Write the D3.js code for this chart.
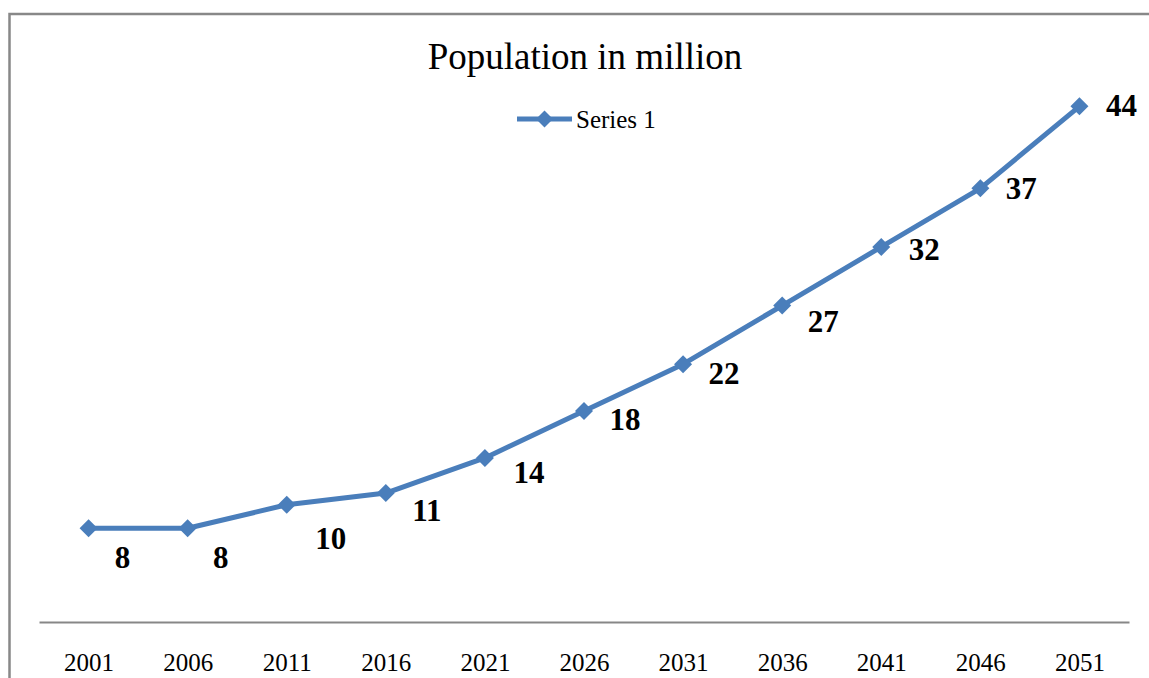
<!DOCTYPE html>
<html>
<head>
<meta charset="utf-8">
<script src="https://cdn.jsdelivr.net/npm/d3@7"></script>
<style>
  html, body { margin: 0; padding: 0; background: #fff; }
  svg { display: block; }
</style>
</head>
<body>
<svg id="chart" width="1149" height="678"></svg>
<script>
// Projected population (million), every five years
const years = ["2001", "2006", "2011", "2016", "2021", "2026", "2031", "2036", "2041", "2046", "2051"];
const population = [8, 8, 10, 11, 14, 18, 22, 27, 32, 37, 44];
const seriesName = "Series 1";
const chartTitle = "Population in million";

// Hand-placed data label nudges (dx, dy) relative to each marker
const labelNudge = [[34, 29], [33, 29], [44, 33], [41, 17], [44, 14], [41, 8], [41, 9], [41, 16], [43, 2], [41, 0], [42, -1]];

const W = 1149, H = 678;
const blue = "#4a7ebb";
const serif = "'Liberation Serif', 'Times New Roman', Times, serif";

const svg = d3.select("#chart");

// Chart frame (extends past the right and bottom edges)
svg.append("rect")
  .attr("x", 9.5).attr("y", 14)
  .attr("width", W + 20).attr("height", H + 20)
  .attr("fill", "none")
  .attr("stroke", "#888")
  .attr("stroke-width", 2.5);

const x = d3.scalePoint().domain(years).range([39, 1129]).padding(0.5);
const y = d3.scaleLinear().domain([0, 50]).range([622, 36]);

// Category axis
const xAxis = svg.append("g")
  .attr("transform", `translate(0,${y(0)})`)
  .call(d3.axisBottom(x).tickSize(0).tickPadding(31));
xAxis.select(".domain").attr("stroke", "#878787").attr("stroke-width", 2);
xAxis.selectAll("text")
  .attr("font-family", serif)
  .attr("font-size", 25)
  .attr("fill", "#000");

// Title
svg.append("text")
  .attr("x", 585).attr("y", 69)
  .attr("text-anchor", "middle")
  .attr("font-family", serif)
  .attr("font-size", 37)
  .attr("fill", "#000")
  .text(chartTitle);

const diamond = r => `M0,${-r}L${r},0L0,${r}L${-r},0Z`;

// Legend
const legend = svg.append("g").attr("transform", "translate(517,119)");
legend.append("line")
  .attr("x1", 0).attr("x2", 55).attr("y1", 0).attr("y2", 0)
  .attr("stroke", blue).attr("stroke-width", 5);
legend.append("path")
  .attr("d", diamond(8.5))
  .attr("transform", "translate(27.5,0)")
  .attr("fill", blue);
legend.append("text")
  .attr("x", 59).attr("y", 9)
  .attr("font-family", serif)
  .attr("font-size", 25)
  .attr("fill", "#000")
  .text(seriesName);

// Series line
const data = years.map((yr, i) => ({ year: yr, value: population[i], nudge: labelNudge[i] }));

svg.append("path")
  .datum(data)
  .attr("fill", "none")
  .attr("stroke", blue)
  .attr("stroke-width", 5)
  .attr("stroke-linejoin", "round")
  .attr("d", d3.line().x(d => x(d.year)).y(d => y(d.value)));

// Markers
svg.append("g").selectAll("path")
  .data(data)
  .join("path")
  .attr("d", diamond(9))
  .attr("transform", d => `translate(${x(d.year)},${y(d.value)})`)
  .attr("fill", blue);

// Data labels
svg.append("g").selectAll("text")
  .data(data)
  .join("text")
  .attr("x", d => x(d.year) + d.nudge[0])
  .attr("y", d => y(d.value) + d.nudge[1])
  .attr("dy", "0.35em")
  .attr("text-anchor", "middle")
  .attr("font-family", serif)
  .attr("font-weight", "bold")
  .attr("font-size", 31)
  .attr("fill", "#000")
  .text(d => d.value);
</script>
</body>
</html>
